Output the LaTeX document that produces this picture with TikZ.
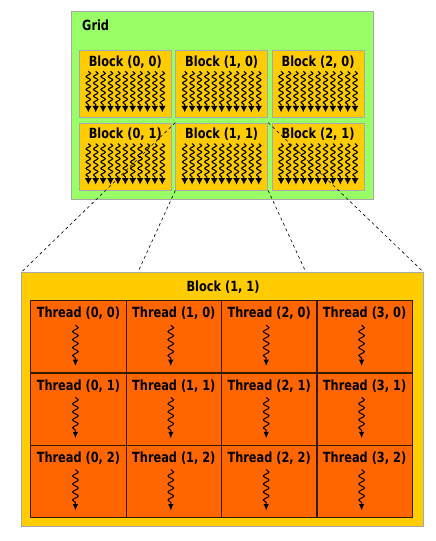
\documentclass[tikz,border=0pt]{standalone}
\usepackage{fontspec}
\newfontfamily\vfont[FakeStretch=0.81]{DejaVu Sans}
\usetikzlibrary{positioning,decorations.pathmorphing,arrows.meta}
\definecolor{gridgreen}{HTML}{99FF66}
\definecolor{blockyellow}{HTML}{FFCC00}
\definecolor{threadorange}{HTML}{FF6600}
\definecolor{edgegray}{HTML}{A8A8A8}
\definecolor{celledge}{HTML}{331A00}
\pgfdeclarelayer{front}
\pgfsetlayers{main,front}

\begin{document}
\begin{tikzpicture}[x=1pt, y=-1pt,
    box/.style={draw=edgegray, line width=0.8pt, inner sep=0pt},
    lbl/.style={font=\vfont\bfseries\fontsize{14}{15}\selectfont, inner sep=0pt},
    cell/.style={draw=celledge, line width=1.2pt, fill=threadorange, inner sep=0pt,
                 minimum width=95.4pt, minimum height=72.2pt},
    warp/.style={decorate, line width=1.1pt,
                 decoration={snake, amplitude=2.2pt, segment length=6.5pt, post length=5pt},
                 -{Latex[width=7pt,length=6.5pt]}},
    twarp/.style={decorate, line width=1pt,
                  decoration={snake, amplitude=2.8pt, segment length=8pt, post length=5pt},
                  -{Latex[width=5.5pt,length=6.5pt]}},
    zoomline/.style={line width=0.6pt, dash pattern=on 3pt off 3pt}]
  \useasboundingbox[fill=white] (0,0) rectangle (436,541);

  % the grid of blocks
  \node[box, fill=gridgreen, minimum width=301.3pt, minimum height=188pt] (grid) at (222.3,105) {};
  \node[lbl, anchor=west] (gridlbl) at (82,25) {Grid};
  \foreach \i in {0,1,2}
    \foreach \j in {0,1} {
      \node[box, fill=blockyellow, minimum width=92pt, minimum height=67pt] (b\i\j)
        at (125.3+96.4*\i, 84.2+72.3*\j) {};
      \node[lbl] (bl\i\j) at ([yshift=-11.5pt]b\i\j.north) {Block (\i, \j)};
      \foreach \k in {0,...,10}
        \draw[warp] ([xshift=-37pt+7.4pt*\k, yshift=-21pt]b\i\j.north)
                 -- ([xshift=-37pt+7.4pt*\k, yshift=-62pt]b\i\j.north);
    }

  % block (1, 1) close up
  \begin{pgfonlayer}{front}
  \node[box, fill=blockyellow, minimum width=401.6pt, minimum height=254pt] (zoom) at (222.5,399.7) {};
  \node[lbl] (zoomlbl) at (223,287.3) {Block (1, 1)};
  \foreach \i in {0,1,2,3}
    \foreach \j in {0,1,2} {
      \node[cell] (t\i\j) at (78.4+95.4*\i, 336.8+72.2*\j) {};
      \node[lbl] (tl\i\j) at ([yshift=-13.5pt]t\i\j.north) {Thread (\i, \j)};
      \draw[twarp] ([xshift=-3pt, yshift=-25pt]t\i\j.north) -- ([xshift=-3pt, yshift=-66pt]t\i\j.north);
    }
  \end{pgfonlayer}

  \draw[zoomline] (b11.north west) -- (zoom.north west);
  \draw[zoomline] (b11.south west) -- (zoom.south west);
  \draw[zoomline] (b11.north east) -- (zoom.north east);
  \draw[zoomline] (b11.south east) -- (zoom.south east);
\end{tikzpicture}
\end{document}
